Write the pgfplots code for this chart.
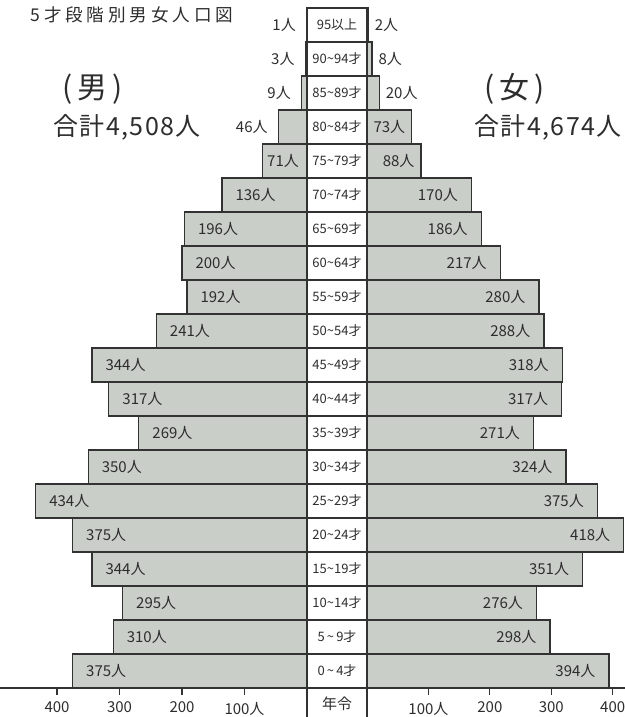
\documentclass[border=0pt]{standalone}
\usepackage{fontspec}
\setmainfont{Noto Sans CJK JP}
\newfontfamily\jptitle[LetterSpace=22]{Noto Sans CJK JP}
\newfontfamily\jpsum[LetterSpace=6]{Noto Sans CJK JP}
\usepackage{pgfplots}
\pgfplotsset{compat=1.18}
\definecolor{barfill}{RGB}{201,206,201}
\definecolor{barline}{RGB}{50,50,50}
\definecolor{txt}{RGB}{45,45,45}

\pgfplotsset{pyr/.style={
  scale only axis, height=340pt, xbar, bar width=17pt, bar shift=0pt,
  ymin=-0.5, ymax=19.5, ytick=\empty, axis y line=none, axis x line*=bottom,
  tick align=outside, major tick length=3.5pt,
  x axis line style={barline, line width=0.7pt},
  tick style={barline, line width=0.6pt},
  xticklabel style={font=\fontsize{7.5}{8}\selectfont, text=txt},
  /pgf/number format/assume math mode=true,
  point meta=x,
  nodes near coords={\pgfmathprintnumber{\pgfplotspointmeta}人},
  every node near coord/.style={font=\fontsize{7.5}{8}\selectfont, text=txt, inner sep=0pt},
  clip=false,
}}
\newcommand{\ti}{\textasciitilde}

\begin{document}
\begin{tikzpicture}
% men
\begin{axis}[pyr, at={(0pt,0pt)}, anchor=south west, width=153.5pt,
  x dir=reverse, xmin=0, xmax=491.2,
  xtick={100,200,300,400}, xticklabels={100人,200,300,400}]
\addplot[fill=barfill, draw=barline, line width=0.6pt,
  every node near coord/.append style={anchor=west, xshift=6.5pt}] coordinates {
  (375,0) (310,1) (295,2) (344,3) (375,4) (434,5) (350,6) (269,7) (317,8) (344,9)
  (241,10) (192,11) (200,12) (196,13) (136,14)};
\addplot[fill=barfill, draw=barline, line width=0.6pt,
  every node near coord/.append style={anchor=west, xshift=2pt}] coordinates {
  (71,15)};
\addplot[fill=barfill, draw=barline, line width=0.6pt,
  every node near coord/.append style={anchor=east, xshift=-5pt}] coordinates {
  (46,16) (9,17) (3,18) (1,19)};
\end{axis}
% women
\begin{axis}[pyr, at={(183.5pt,0pt)}, anchor=south west, width=129pt,
  xmin=0, xmax=420,
  xtick={100,200,300,400}, xticklabels={100人,200,300,400}]
\addplot[fill=barfill, draw=barline, line width=0.6pt,
  every node near coord/.append style={anchor=east, xshift=-6.5pt}] coordinates {
  (394,0) (298,1) (276,2) (351,3) (418,4) (375,5) (324,6) (271,7) (317,8) (318,9)
  (288,10) (280,11) (217,12) (186,13) (170,14)};
\addplot[fill=barfill, draw=barline, line width=0.6pt,
  every node near coord/.append style={anchor=east, xshift=-3pt}] coordinates {
  (88,15) (73,16)};
\addplot[fill=barfill, draw=barline, line width=0.6pt,
  every node near coord/.append style={anchor=west, xshift=3pt}] coordinates {
  (20,17) (8,18) (2,19)};
\end{axis}
% age column
\fill[white] (153.5pt,0pt) rectangle (183.5pt,340pt);
\draw[barline, line width=0.7pt] (153.5pt,-14.5pt) -- (153.5pt,340pt) -- (183.5pt,340pt) -- (183.5pt,-14.5pt);
\foreach \i in {0,...,19} {
  \draw[barline, line width=0.6pt] (153.5pt,\i*17pt) -- (183.5pt,\i*17pt);
}
\foreach \lab [count=\i from 0] in {0\,\ti\,4才,5\,\ti\,9才,10\ti14才,15\ti19才,20\ti24才,25\ti29才,30\ti34才,35\ti39才,40\ti44才,45\ti49才,50\ti54才,55\ti59才,60\ti64才,65\ti69才,70\ti74才,75\ti79才,80\ti84才,85\ti89才,90\ti94才,95以上} {
  \node[font=\fontsize{6.5}{7}\selectfont, text=txt, inner sep=0pt] at (168.5pt,\i*17pt+8.5pt) {\lab};
}
\node[font=\fontsize{7.5}{8}\selectfont, text=txt] at (168.5pt,-8pt) {年令};
% headings
\node[anchor=west, font=\jptitle\fontsize{8.8}{10}\selectfont, text=txt, inner sep=0pt] at (15pt,336.5pt) {5才段階別男女人口図};
\node[font=\fontsize{15}{16}\selectfont, text=txt] at (46.5pt,299.5pt) {(\,男\,)};
\node[font=\jpsum\fontsize{12.5}{13}\selectfont, text=txt] at (63.5pt,280.5pt) {合計4,508人};
\node[font=\fontsize{15}{16}\selectfont, text=txt] at (257.5pt,299.5pt) {(\,女\,)};
\node[font=\jpsum\fontsize{12.5}{13}\selectfont, text=txt] at (274pt,280.5pt) {合計4,674人};
\pgfresetboundingbox
\useasboundingbox (0pt,-14.5pt) rectangle (312.5pt,344pt);
\end{tikzpicture}
\end{document}
